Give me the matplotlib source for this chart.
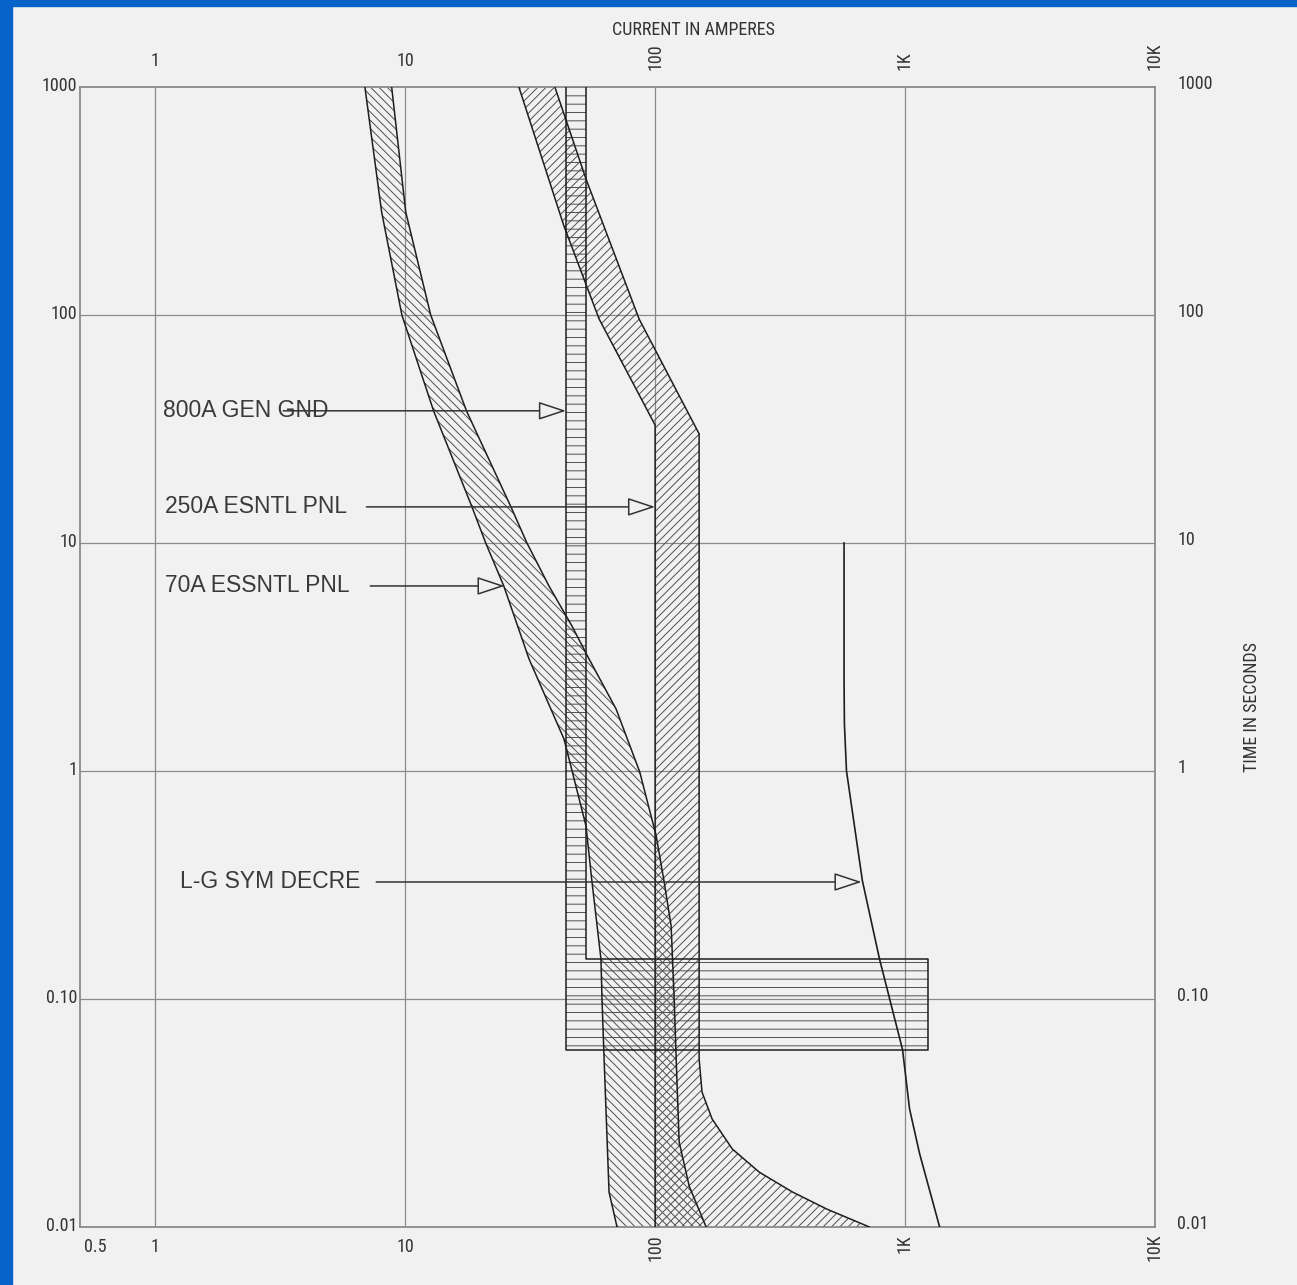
import numpy as np
import matplotlib
matplotlib.use("Agg")
import matplotlib.pyplot as plt
from matplotlib.patches import Rectangle

# ---- data (current in A, time in s) ----
# 70A ESSNTL PNL band
a70_left_i = [6.9, 8.05, 9.7, 13.0, 18.5, 21.0, 24.8, 31.3, 43.2, 52.9, 55.9, 60.7, 61.3, 62.5, 65.4, 70.4]
a70_left_t = [1000, 283, 100, 37.9, 14.4, 10, 6.48, 3.10, 1.38, 0.574, 0.326, 0.150, 0.10, 0.0546, 0.01425, 0.01]
a70_right_i = [8.83, 10.05, 12.65, 17.6, 26.5, 30.7, 37.6, 46.5, 54.4, 69.8, 86.8, 101, 108.7, 115.9, 119.2, 121.4, 124.8, 136.9, 160]
a70_right_t = [1000, 283, 100, 37.9, 14.4, 10, 6.48, 4.32, 3.10, 1.87, 0.99, 0.519, 0.326, 0.209, 0.10, 0.0546, 0.0236, 0.0151, 0.01]

# 250A ESNTL PNL band
a250_left_i = [28.5, 43.2, 59.7, 100, 100]
a250_left_t = [1000, 245, 96, 32.9, 0.01]
a250_right_i = [39.7, 52.9, 86.3, 150, 150, 154, 169, 203.5, 261, 354, 485, 720]
a250_right_t = [1000, 395, 96, 30.1, 0.0546, 0.0391, 0.0298, 0.022, 0.0174, 0.01425, 0.012, 0.01]

# 800A GEN GND (long time column + short time block)
gen_i = [44, 44, 1230, 1230, 52.9, 52.9]
gen_t = [1000, 0.06, 0.06, 0.15, 0.15, 1000]

# L-G SYM DECRE
lg_i = [570, 570, 572, 583, 675, 790, 977, 1042, 1143, 1375]
lg_t = [10, 2.5, 1.6, 1.0, 0.33, 0.15, 0.06, 0.033, 0.021, 0.01]

labels = ["800A GEN GND", "250A ESNTL PNL", "70A ESSNTL PNL", "L-G SYM DECRE"]
label_x = [1.077, 1.096, 1.096, 1.26]
arrow_start = [3.25, 7.0, 7.25, 7.66]
arrow_tip = [44, 100, 25.0, 670]
arrow_t = [38, 14.4, 6.48, 0.326]

x_ticks = [1, 10, 100, 1000, 10000]
x_ticklabels = ["1", "10", "100", "1K", "10K"]
y_ticks = [1000, 100, 10, 1, 0.1, 0.01]
y_ticklabels = ["1000", "100", "10", "1", "0.10", "0.01"]

BG = "#f1f1f1"
INK = "#1e1e1e"
HATCH = "#505050"
GRID = "#8a8a8a"

plt.rcParams["hatch.linewidth"] = 0.7
narrow = ["Liberation Sans Narrow", "Roboto Condensed", "DejaVu Sans"]

fig = plt.figure(figsize=(12.97, 12.85), dpi=100, facecolor=BG)
W, H = 1297, 1285
ax = fig.add_axes([80 / W, 1 - 1227 / H, (1155 - 80) / W, (1227 - 87) / H])
ax.set_facecolor(BG)
ax.set_xscale("log")
ax.set_yscale("log")
ax.set_xlim(0.5, 10000)
ax.set_ylim(0.01, 1000)

for v in x_ticks[:-1]:
    ax.axvline(v, color=GRID, lw=0.9, zorder=0)
for v in y_ticks[1:-1]:
    ax.axhline(v, color=GRID, lw=0.9, zorder=0)
for s in ax.spines.values():
    s.set_color(GRID)
    s.set_linewidth(1.3)
ax.set_xticks([])
ax.set_yticks([])
ax.minorticks_off()


def band(li, lt, ri, rt, hatch):
    xs = np.r_[li, ri[::-1]]
    ys = np.r_[lt, rt[::-1]]
    ax.fill(xs, ys, facecolor="none", edgecolor=HATCH, hatch=hatch, linewidth=0, zorder=2)
    ax.plot(li, lt, color=INK, lw=1.1, zorder=3)
    ax.plot(ri, rt, color=INK, lw=1.1, zorder=3)


band(a70_left_i, a70_left_t, a70_right_i, a70_right_t, "\\\\\\\\")
band(a250_left_i, a250_left_t, a250_right_i, a250_right_t, "////")

ax.fill(gen_i, gen_t, facecolor="none", edgecolor=HATCH, hatch="--", linewidth=0, zorder=2)
ax.plot(gen_i, gen_t, color=INK, lw=1.1, zorder=3)

ax.plot(lg_i, lg_t, color=INK, lw=1.2, zorder=3)

for lab, lx, a0, a1, t in zip(labels, label_x, arrow_start, arrow_tip, arrow_t):
    ax.text(lx, t, lab, fontsize=16.5, family=["Liberation Sans", "DejaVu Sans"],
            color="#3a3a3a", va="center", ha="left", zorder=1)
    ax.annotate("", xy=(a1, t), xytext=(a0, t), zorder=4,
                arrowprops=dict(arrowstyle="-|>,head_length=1.15,head_width=0.38",
                                mutation_scale=15, lw=1.1, ec="#333333", fc=BG,
                                shrinkA=0, shrinkB=0))

tk = dict(fontsize=13, family=narrow, fontstretch="condensed", color="#333333")
# current labels, top and bottom
for v, s in zip(x_ticks, x_ticklabels):
    rot = 90 if v >= 100 else 0
    ax.annotate(s, (v, 1000), xytext=(0, 12), textcoords="offset points",
                ha="center", va="bottom", rotation=rot, **tk)
    ax.annotate(s, (v, 0.01), xytext=(0, -5 if rot else -8), textcoords="offset points",
                ha="center", va="top", rotation=rot, **tk)
ax.annotate("0.5", (0.5, 0.01), xytext=(11, -8), textcoords="offset points",
            ha="center", va="top", **tk)

# time labels, left and right
for v, s in zip(y_ticks, y_ticklabels):
    ax.annotate(s, (0.5, v), xytext=(-2, 1), textcoords="offset points",
                ha="right", va="center", **tk)
    ax.annotate(s, (10000, v), xytext=(16, 2), textcoords="offset points",
                ha="left", va="center", **tk)

fig.text(693 / W, 1 - 30 / H, "CURRENT IN AMPERES", ha="center", va="center", **tk)
fig.text(1252 / W, 1 - 707 / H, "TIME IN SECONDS", ha="center", va="center", rotation=90, **tk)

# blue frame of the slide
blue = "#0563c9"
fig.patches.append(Rectangle((0, 0), 12 / W, 1, transform=fig.transFigure, color=blue, zorder=10))
fig.patches.append(Rectangle((0, 1 - 6 / H), 1, 6 / H, transform=fig.transFigure, color=blue, zorder=10))

fig.savefig("out.png", dpi=100, facecolor=BG)
